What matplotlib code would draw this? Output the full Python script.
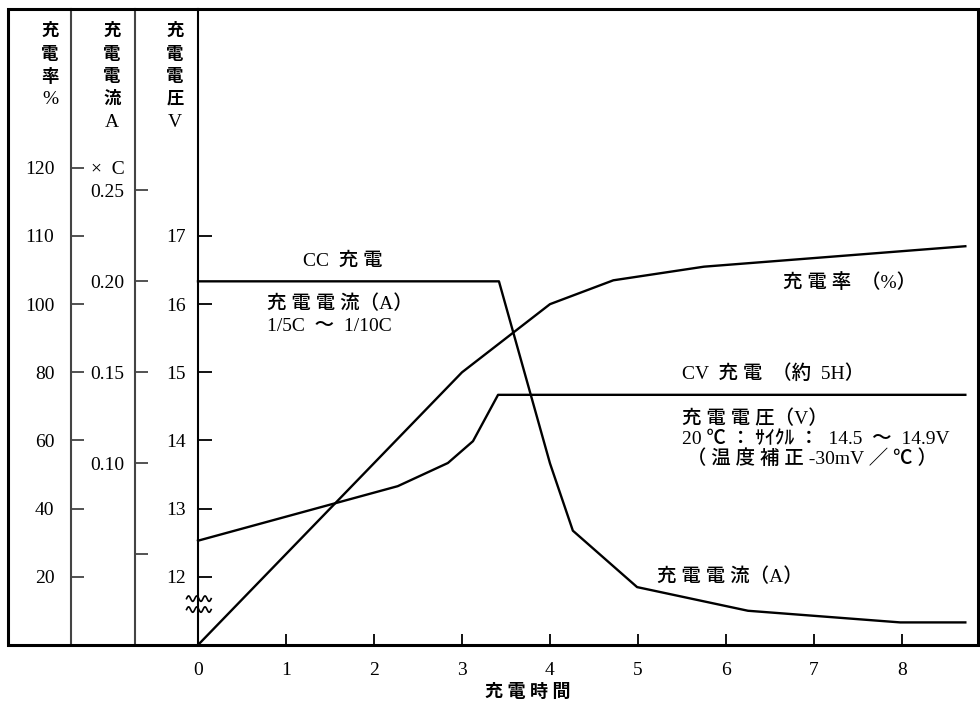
import numpy as np
import matplotlib.pyplot as plt
from matplotlib.patches import Rectangle

plt.rcParams['font.family'] = ['Liberation Serif', 'Noto Sans CJK JP']

# charge rate (%) vs charge time (h)
rate_hours = [0, 3.0, 4.0, 4.72, 5.75, 8.72]
rate_pct = [0, 80, 100, 103.5, 105.5, 108.5]

# charge voltage (V)
volt_hours = [0, 2.27, 2.84, 3.125, 3.41, 8.72]
volt_v = [12.53, 13.33, 13.67, 13.99, 14.67, 14.67]

# charge current (x C)
curr_hours = [0, 3.42, 4.0, 4.26, 4.99, 6.25, 7.98, 8.72]
curr_c = [0.20, 0.20, 0.10, 0.063, 0.032, 0.019, 0.0126, 0.0126]

hour_ticks = [0, 1, 2, 3, 4, 5, 6, 7, 8]
volt_ticks = [12, 13, 14, 15, 16, 17]
pct_ticks = [20, 40, 60, 80, 100, 110, 120]
curr_ticks = [0.05, 0.10, 0.15, 0.20, 0.25]
curr_labels = ['', '0.10', '0.15', '0.20', '0.25']

# the % scale is broken: 20 %/div below 100, 10 %/div above
pct_knots = [-1000, 0, 100, 120, 1000]
v_knots = [-39, 11, 16, 18, 106]


def pct_to_v(p):
    return np.interp(p, pct_knots, v_knots)


def v_to_pct(v):
    return np.interp(v, v_knots, pct_knots)


def c_to_v(c):
    return 15 + (np.asarray(c) - 0.15) * 26.7


def v_to_c(v):
    return 0.15 + (np.asarray(v) - 15) / 26.7


fig = plt.figure(figsize=(9.8, 7.02), dpi=100)
ax = fig.add_axes([8 / 980, 57 / 702, 970 / 980, 636 / 702])

ax.set_xlim(-2.159, 8.864)
ax.set_ylim(11.0, 20.33)

lw = 1.7
ax.plot(rate_hours, pct_to_v(rate_pct), color='black', lw=lw, clip_on=False)
ax.plot(volt_hours, volt_v, color='black', lw=lw)
ax.plot(curr_hours, c_to_v(curr_c), color='black', lw=lw)

# frame
for s in ax.spines.values():
    s.set_visible(False)
ax.add_patch(Rectangle((0, 0), 1, 1, transform=ax.transAxes, fill=False,
                       lw=2.2, edgecolor='black', clip_on=False, zorder=5))

# voltage axis on the left spine at t = 0
ax.spines['left'].set_visible(True)
ax.spines['left'].set_position(('data', 0))
ax.spines['left'].set_linewidth(1.5)
ax.set_yticks(volt_ticks)
ax.tick_params(axis='y', direction='in', length=10, width=1.3, pad=9,
               labelsize=14)

ax.set_xticks(hour_ticks)
ax.tick_params(axis='x', direction='in', length=8, width=1.3, pad=12,
               labelsize=14)
ax.set_xlabel('充 電 時 間', fontsize=13, fontweight='bold')
ax.xaxis.set_label_coords(0.536, -0.061)

# current axis
ax_c = ax.secondary_yaxis(127 / 970, functions=(v_to_c, c_to_v))
ax_c.set_yticks(curr_ticks)
ax_c.set_yticklabels(curr_labels)
ax_c.tick_params(direction='in', length=9, width=1.3, pad=8, labelsize=14,
                 color='#444444')
ax_c.spines['left'].set_color('#444444')
ax_c.spines['left'].set_linewidth(1.5)

# charge rate axis
ax_p = ax.secondary_yaxis(63 / 970, functions=(v_to_pct, pct_to_v))
ax_p.set_yticks(pct_ticks)
ax_p.tick_params(direction='in', length=9, width=1.3, pad=12, labelsize=14,
                 color='#444444')
ax_p.spines['left'].set_color('#444444')
ax_p.spines['left'].set_linewidth(1.5)

# column headers
headers = [(-1.68, ['充', '電', '率', '%']),
           (-0.977, ['充', '電', '電', '流', 'A']),
           (-0.26, ['充', '電', '電', '圧', 'V'])]
for xh, chars in headers:
    for i, ch in enumerate(chars):
        cjk = ord(ch) > 255
        ax.text(xh, 19.99 - 0.33 * i, ch, ha='center', va='center',
                fontsize=12.5 if cjk else 14,
                fontweight='bold' if cjk else 'normal')
ax.text(-0.83, 17.98, '×  C', ha='right', va='center', fontsize=14)

# broken axis mark
wx = np.linspace(-0.13, 0.15, 60)
for base in (11.68, 11.52):
    ax.plot(wx, base + 0.04 * np.sin((wx + 0.13) / 0.28 * 3 * 2 * np.pi),
            color='black', lw=1.2)

# annotations
fs = 14
tw = 'medium'
notes = [
    (1.19, 16.63, 'CC  充 電'),
    (0.78, 16.0, '充 電 電 流（A）'),
    (0.78, 15.67, '1/5C  ～  1/10C'),
    (6.65, 16.31, '充 電 率  （%）'),
    (5.5, 14.98, 'CV  充 電  （約  5H）'),
    (5.5, 14.32, '充 電 電 圧（V）'),
    (5.5, 14.02, '20 ℃ ： ｻｲｸﾙ ：  14.5  ～  14.9V'),
    (5.5, 13.73, ' （ 温 度 補 正 -30mV ／ ℃ ）'),
    (5.22, 12.0, '充 電 電 流（A）'),
]
for xt, yt, s in notes:
    ax.text(xt, yt, s, ha='left', va='center', fontsize=fs, fontweight=tw)

fig.savefig('out.png', dpi=100)
